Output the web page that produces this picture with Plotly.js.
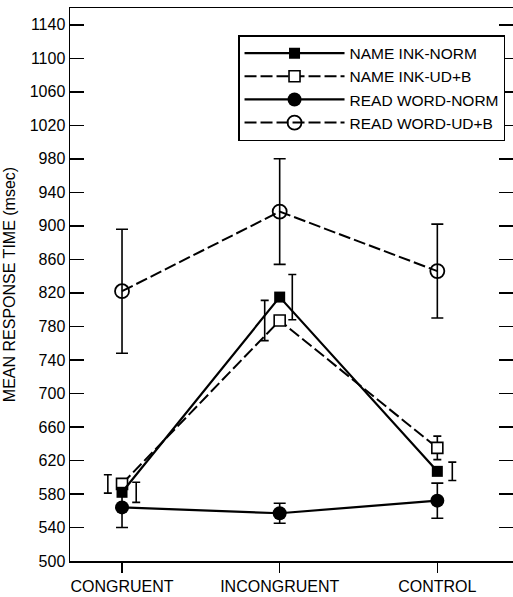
<!DOCTYPE html>
<html>
<head>
<meta charset="utf-8">
<script src="https://cdn.plot.ly/plotly-3.0.1.min.js"></script>
<style>html,body{margin:0;padding:0;background:#fff;}</style>
</head>
<body>
<div id="chart" style="width:513px;height:597px;"></div>
<script>
// ---- data ----
const categories = ["CONGRUENT", "INCONGRUENT", "CONTROL"];
const seriesNames = ["NAME INK-NORM", "NAME INK-UD+B", "READ WORD-NORM", "READ WORD-UD+B"];
const nameInkNorm = [582, 815, 607];
const nameInkNormErr = [12, 27, 11];
const nameInkUDB = [592, 787, 635];
const nameInkUDBErr = [11, 24, 14];
const readWordNorm = [564, 557, 572];
const readWordNormErr = [24, 12, 21];
const readWordUDB = [822, 917, 846];
const readWordUDBErr = [74, 63, 56];
const yTickVals = [500,540,580,620,660,700,740,780,820,860,900,940,980,1020,1060,1100,1140];

// ---- style / layout constants ----
const xIdx = categories.map((c, i) => i);
const nameNormBracketOffset = [0.09, 0.08, 0.095];
const nameUDBBracketOffset = [-0.09, -0.095, 0];
const FONT = "Liberation Sans, Arial, sans-serif";

function bracketTrace(vals, errs, offs) {
  return {
    x: xIdx.map((v, i) => v + offs[i]), y: vals, mode: "markers",
    marker: {size: 1, color: "rgba(0,0,0,0)"}, showlegend: false, hoverinfo: "skip",
    error_y: {type: "data", array: errs, visible: true, color: "#000", thickness: 1.6, width: 4}
  };
}

const traces = [
  bracketTrace(nameInkNorm, nameInkNormErr, nameNormBracketOffset),
  bracketTrace(nameInkUDB, nameInkUDBErr, nameUDBBracketOffset),
  {
    x: xIdx, y: readWordUDB, name: seriesNames[3], mode: "lines+markers",
    line: {color: "#000", width: 2, dash: "12px,4px"},
    marker: {symbol: "circle-open", size: 14, color: "#000", line: {width: 1.8, color: "#000"}},
    error_y: {type: "data", array: readWordUDBErr, visible: true, color: "#000", thickness: 1.6, width: 6}
  },
  {
    x: xIdx, y: readWordNorm, name: seriesNames[2], mode: "lines+markers",
    line: {color: "#000", width: 2.2},
    marker: {symbol: "circle", size: 14, color: "#000"},
    error_y: {type: "data", array: readWordNormErr, visible: true, color: "#000", thickness: 1.6, width: 6}
  },
  {
    x: xIdx, y: nameInkUDB, name: seriesNames[1], mode: "lines+markers",
    line: {color: "#000", width: 2, dash: "12px,4px"},
    marker: {symbol: "square", size: 11, color: "#fff", line: {width: 1.6, color: "#000"}}
  },
  {
    x: xIdx, y: nameInkNorm, name: seriesNames[0], mode: "lines+markers",
    line: {color: "#000", width: 2.2},
    marker: {symbol: "square", size: 11, color: "#000"}
  }
];

const layout = {
  width: 513, height: 597,
  margin: {l: 70, r: 0, t: 8, b: 36},
  paper_bgcolor: "#fff", plot_bgcolor: "#fff",
  font: {family: FONT, color: "#000", size: 16},
  showlegend: true,
  legend: {
    x: 0.982, xanchor: "right", y: 0.951, yanchor: "top",
    bgcolor: "#fff", bordercolor: "#000", borderwidth: 1.5,
    font: {family: FONT, size: 15.5, color: "#000"},
    traceorder: "reversed", itemwidth: 100, tracegroupgap: 0
  },
  xaxis: {
    range: [-0.33, 2.48], tickvals: xIdx, ticktext: categories,
    ticks: "outside", ticklen: 10, tickwidth: 1.5, tickcolor: "#000",
    showline: true, linecolor: "#000", linewidth: 1.5, mirror: true,
    showgrid: false, zeroline: false, fixedrange: true,
    tickfont: {family: FONT, size: 16}
  },
  yaxis: {
    range: [500, 1160], tickvals: yTickVals,
    ticks: "inside", ticklen: 14, tickwidth: 1.5, tickcolor: "#000",
    showline: true, linecolor: "#000", linewidth: 1.5, mirror: "ticks",
    showgrid: false, zeroline: false, fixedrange: true,
    tickfont: {family: FONT, size: 16},
    title: {text: "MEAN RESPONSE TIME (msec)", font: {family: FONT, size: 16}, standoff: 10}
  }
};

Plotly.newPlot("chart", traces, layout, {displayModeBar: false, staticPlot: true});
</script>
</body>
</html>
